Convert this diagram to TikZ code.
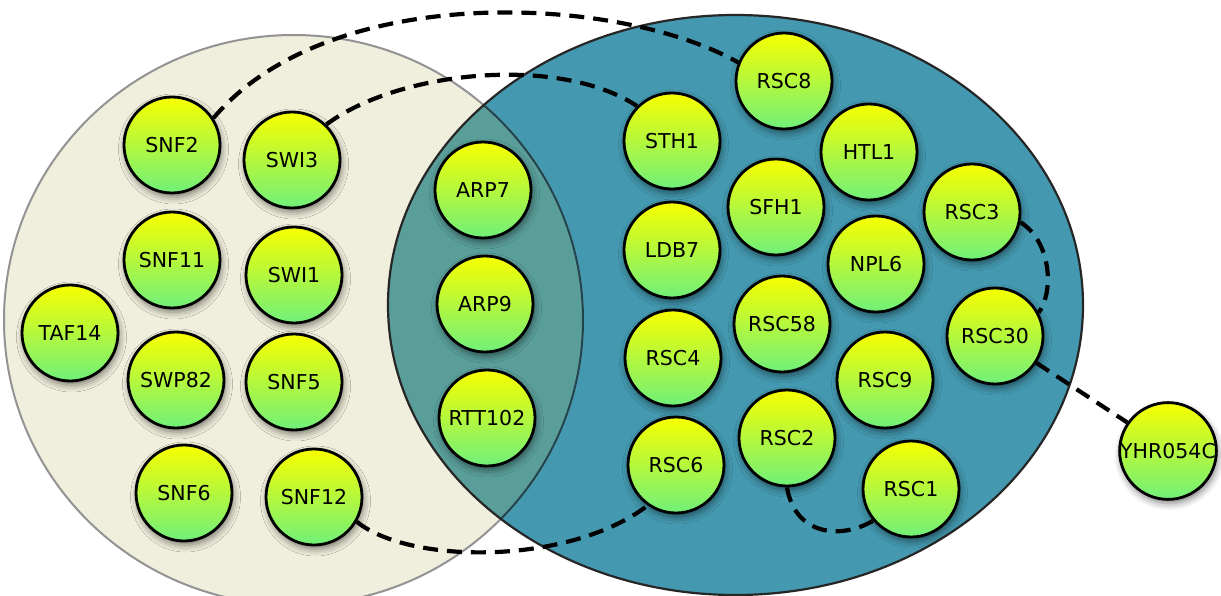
\documentclass[tikz,border=0pt]{standalone}
\usepackage{fontspec}
\newfontfamily\labfont{DejaVu Sans}
\usetikzlibrary{shadows.blur}
\definecolor{beige}{RGB}{240,238,220}
\definecolor{teal1}{RGB}{68,153,176}
\definecolor{overlap}{RGB}{90,158,154}
\definecolor{cy}{RGB}{248,255,0}
\definecolor{cg}{RGB}{112,240,122}
\tikzset{
  prot/.style={circle, draw=black, line width=2.8pt, minimum size=96pt, inner sep=0pt,
    top color=cy, bottom color=cg, text=black, font=\labfont\fontsize{20.5}{22}\selectfont,
    blur shadow={shadow xshift=1.5pt, shadow yshift=-4pt, shadow blur radius=7pt, shadow opacity=50}},
  link/.style={line width=4.2pt, dash pattern=on 15pt off 9pt, black}
}
\begin{document}
\begin{tikzpicture}[x=1pt,y=-1pt]
\useasboundingbox (0,0) rectangle (1221,596);
% sets
\fill[beige] (293.5,320) ellipse [x radius=289.5pt, y radius=285pt];
\fill[teal1] (735.5,305) ellipse [x radius=347.5pt, y radius=290pt];
\begin{scope}
  \clip (293.5,320) ellipse [x radius=289.5pt, y radius=285pt];
  \fill[overlap] (735.5,305) ellipse [x radius=347.5pt, y radius=290pt];
\end{scope}
\draw[line width=2pt, gray!85] (293.5,320) ellipse [x radius=289.5pt, y radius=285pt];
\begin{scope}
  \clip (735.5,305) ellipse [x radius=347.5pt, y radius=290pt];
  \draw[line width=2pt, black!55!teal1] (293.5,320) ellipse [x radius=289.5pt, y radius=285pt];
\end{scope}
\draw[line width=2.2pt, black!85] (735.5,305) ellipse [x radius=347.5pt, y radius=290pt];
% proteins
\node[prot] (snf2)  at (172,145) {SNF2};
\node[prot] (swi3)  at (292,160) {SWI3};
\node[prot] (snf11) at (172,260) {SNF11};
\node[prot] (swi1)  at (294,275) {SWI1};
\node[prot] (taf14) at (70,333)  {TAF14};
\node[prot] (swp82) at (176,380) {SWP82};
\node[prot] (snf5)  at (294,382) {SNF5};
\node[prot] (snf6)  at (184,493) {SNF6};
\node[prot] (snf12) at (314,497) {SNF12};
\node[prot] (arp7)  at (483,190) {ARP7};
\node[prot] (arp9)  at (485,304) {ARP9};
\node[prot] (rtt102) at (487,418) {RTT102};
\node[prot] (sth1)  at (672,141) {STH1};
\node[prot] (rsc8)  at (784,81)  {RSC8};
\node[prot] (sfh1)  at (776,207) {SFH1};
\node[prot] (ldb7)  at (672,250) {LDB7};
\node[prot] (htl1)  at (869,152) {HTL1};
\node[prot] (rsc3)  at (972,212) {RSC3};
\node[prot] (npl6)  at (876,264) {NPL6};
\node[prot] (rsc58) at (782,324) {RSC58};
\node[prot] (rsc4)  at (673,358) {RSC4};
\node[prot] (rsc30) at (995,336) {RSC30};
\node[prot] (rsc9)  at (885,380) {RSC9};
\node[prot] (rsc6)  at (676,465) {RSC6};
\node[prot] (rsc2)  at (787,438) {RSC2};
\node[prot] (rsc1)  at (911,489) {RSC1};
\node[prot] (yhr)   at (1168,451) {YHR054C};
% links
\draw[link] (snf2.33) .. controls (330,-20) and (620,-5) .. (rsc8.158);
\draw[link] (swi3.46) .. controls (400,70) and (560,55) .. (sth1.135);
\draw[link] (snf12.-30) .. controls (410,565) and (570,565) .. (rsc6.235);
\draw[link] (rsc2.-90) .. controls (795,535) and (840,540) .. (rsc1.220);
\draw[link] (rsc3.-12) .. controls (1050,240) and (1055,290) .. (rsc30.28);
\draw[link] (rsc30.-33) -- (yhr.145);
\end{tikzpicture}
\end{document}
